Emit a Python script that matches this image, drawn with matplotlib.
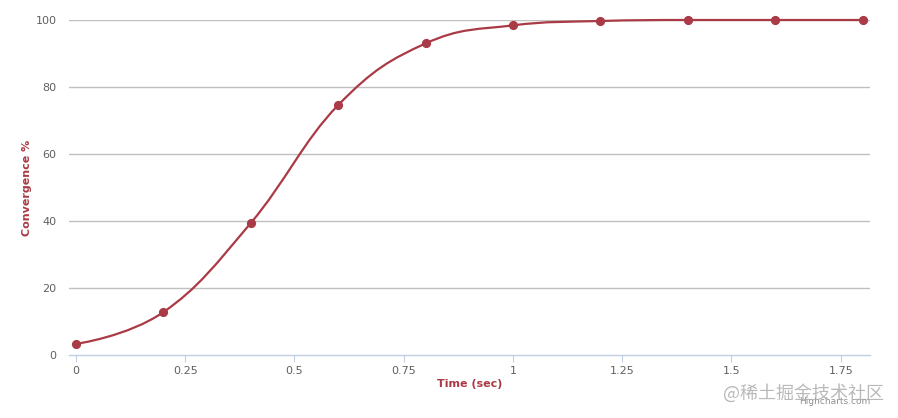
import numpy as np
import matplotlib
matplotlib.use('Agg')
import matplotlib.pyplot as plt
from matplotlib.path import Path
from matplotlib.patches import PathPatch

time_sec = [0, 0.2, 0.4, 0.6, 0.8, 1.0, 1.2, 1.4, 1.6, 1.8]
convergence = [3.3, 12.8, 39.4, 74.6, 93.0, 98.4, 99.7, 100, 100, 100]
x_ticks = [0, 0.25, 0.5, 0.75, 1, 1.25, 1.5, 1.75]
x_labels = ['0', '0.25', '0.5', '0.75', '1', '1.25', '1.5', '1.75']
y_ticks = [0, 20, 40, 60, 80, 100]

red = '#AA3A45'
label_col = '#606060'


def spline_path(ax, xs, ys, smoothing=1.5):
    # highcharts-style bezier spline, computed in display space
    pts = ax.transData.transform(np.column_stack([xs, ys]))
    n = len(pts)
    lc = [None] * n
    rc = [None] * n
    for i in range(1, n - 1):
        px, py = pts[i]
        lx, ly = pts[i - 1]
        nx, ny = pts[i + 1]
        d = smoothing + 1
        lcx, lcy = (smoothing * px + lx) / d, (smoothing * py + ly) / d
        rcx, rcy = (smoothing * px + nx) / d, (smoothing * py + ny) / d
        corr = ((rcy - lcy) * (rcx - px)) / (rcx - lcx) + py - rcy
        lcy += corr
        rcy += corr
        if lcy > max(ly, py):
            lcy = max(ly, py); rcy = 2 * py - lcy
        elif lcy < min(ly, py):
            lcy = min(ly, py); rcy = 2 * py - lcy
        if rcy > max(py, ny):
            rcy = max(py, ny); lcy = 2 * py - rcy
        elif rcy < min(py, ny):
            rcy = min(py, ny); lcy = 2 * py - rcy
        lc[i] = (lcx, lcy)
        rc[i] = (rcx, rcy)
    lc[-1] = tuple(pts[-1])
    rc[0] = tuple(pts[0])
    verts = [tuple(pts[0])]
    codes = [Path.MOVETO]
    for i in range(1, n):
        verts += [rc[i - 1], lc[i], tuple(pts[i])]
        codes += [Path.CURVE4] * 3
    return Path(verts, codes)


fig = plt.figure(figsize=(8.98, 4.18), dpi=100)
ax = fig.add_axes([69 / 898, 63 / 418, 801 / 898, 335 / 418])
ax.set_xlim(-0.016, 1.817)
ax.set_ylim(0, 100)

for s in ['top', 'right', 'left']:
    ax.spines[s].set_visible(False)
ax.spines['bottom'].set_color('#C0D0E0')
ax.spines['bottom'].set_linewidth(1)

ax.set_yticks(y_ticks)
ax.set_yticklabels([str(v) for v in y_ticks], color=label_col, fontsize=8)
ax.tick_params(axis='y', length=0, pad=9)
ax.set_xticks(x_ticks)
ax.set_xticklabels(x_labels, color=label_col, fontsize=8)
ax.tick_params(axis='x', length=5, color='#C0D0E0', pad=3)
for y in y_ticks[1:]:
    ax.axhline(y, color='#C0C0C0', lw=1, zorder=0)

ax.set_ylabel('Convergence %', color=red, fontsize=8, fontweight='bold')
ax.yaxis.set_label_coords(-(69 - 27) / 801, 0.5)
ax.set_xlabel('Time (sec)', color=red, fontsize=8, fontweight='bold')
ax.xaxis.set_label_coords((470 - 69) / 801, -(384 - 355) / 335)
ax.xaxis.label.set_va('center')
ax.yaxis.label.set_va('center')

path = spline_path(ax, time_sec, convergence)
ax.add_patch(PathPatch(path, transform=None, facecolor='none', edgecolor=red, lw=1.6, clip_on=False))
ax.plot(time_sec, convergence, 'o', color=red, ms=5.6, clip_on=False, zorder=3)

fig.text(870 / 898, 1 - 402 / 418, 'Highcharts.com', ha='right', va='center', fontsize=6.5, color='#909090')
fig.text(884 / 898, 1 - 393 / 418, '@稀土掘金技术社区', ha='right', va='center', fontsize=13,
         color='#a8a8a8', alpha=0.8, family=['Noto Sans CJK SC', 'DejaVu Sans'])

fig.savefig('out.png', dpi=100)
